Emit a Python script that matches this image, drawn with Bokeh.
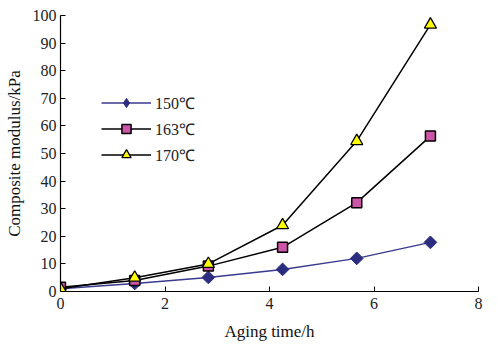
import math
from bokeh.plotting import figure
from bokeh.embed import file_html
from bokeh.resources import INLINE
from bokeh.models import Range1d, Legend, LegendItem

aging_time = [0.0, 1.42, 2.83, 4.25, 5.67, 7.08]
mod_150 = [1.0, 2.9, 5.1, 8.0, 12.0, 17.8]
mod_163 = [1.5, 4.0, 9.2, 16.0, 32.2, 56.3]
mod_170 = [1.0, 5.0, 10.0, 24.0, 54.5, 96.7]
x_ticks = [0, 2, 4, 6, 8]
y_ticks = [0, 10, 20, 30, 40, 50, 60, 70, 80, 90, 100]

FONT = "Liberation Serif"

p = figure(width=500, height=350, output_backend="svg", toolbar_location=None,
           x_range=Range1d(0, 8), y_range=Range1d(0, 100),
           min_border_left=60, min_border_right=22, min_border_top=15, min_border_bottom=59)
p.outline_line_color = None
p.grid.grid_line_color = None
p.background_fill_color = "white"
p.border_fill_color = "white"

for ax in (p.xaxis[0], p.yaxis[0]):
    ax.axis_line_color = "black"
    ax.axis_line_width = 1.2
    ax.major_tick_in = 5
    ax.major_tick_out = 0
    ax.minor_tick_line_color = None
    ax.major_tick_line_color = "black"
    ax.major_label_text_font = FONT
    ax.major_label_text_font_size = "16px"
    ax.major_label_text_color = "#222222"
    ax.axis_label_text_font = FONT
    ax.axis_label_text_font_size = "17px"
    ax.axis_label_text_font_style = "normal"
    ax.axis_label_text_color = "#111111"

p.xaxis.ticker = x_ticks
p.yaxis.ticker = y_ticks
p.xaxis.axis_label = "Aging time/h"
p.yaxis.axis_label = "Composite modulus/kPa"
p.xaxis.axis_label_standoff = 10
p.yaxis.axis_label_standoff = 6
p.yaxis.major_label_standoff = 4
p.xaxis.major_label_standoff = 6

# legend proxy for the 150 series (first point only, hidden under the other markers)
m1_leg = p.scatter(aging_time[:1], mod_150[:1], marker="diamond", size=14,
                   fill_color="#2b2d80", line_color="#2b2d80")
l1 = p.line(aging_time, mod_150, line_color="#3a3a8f", line_width=1.5)
m1 = p.scatter(aging_time, mod_150, marker="square", angle=math.pi / 4, size=9,
               fill_color="#2b2d80", line_color="#2b2d80")
l2 = p.line(aging_time, mod_163, line_color="black", line_width=1.5)
m2 = p.scatter(aging_time, mod_163, marker="square", size=10, fill_color="#cc55aa", line_color="black", line_width=1.5)
l3 = p.line(aging_time, mod_170, line_color="black", line_width=1.5)
m3 = p.scatter(aging_time, mod_170, marker="triangle", size=12, fill_color="#ffff00", line_color="black", line_width=1.3)

legend = Legend(items=[
    LegendItem(label="150℃", renderers=[l1, m1_leg]),
    LegendItem(label="163℃", renderers=[l2, m2]),
    LegendItem(label="170℃", renderers=[l3, m3]),
], location=(41, 125))
legend.border_line_color = None
legend.background_fill_alpha = 0
legend.glyph_width = 50
legend.glyph_height = 23
legend.spacing = 3
legend.padding = 10
legend.label_standoff = 4
legend.label_text_font = FONT
legend.label_text_font_size = "16px"
legend.label_text_color = "#222222"
p.add_layout(legend, "center")

open("out.html", "w").write(file_html(p, INLINE))
